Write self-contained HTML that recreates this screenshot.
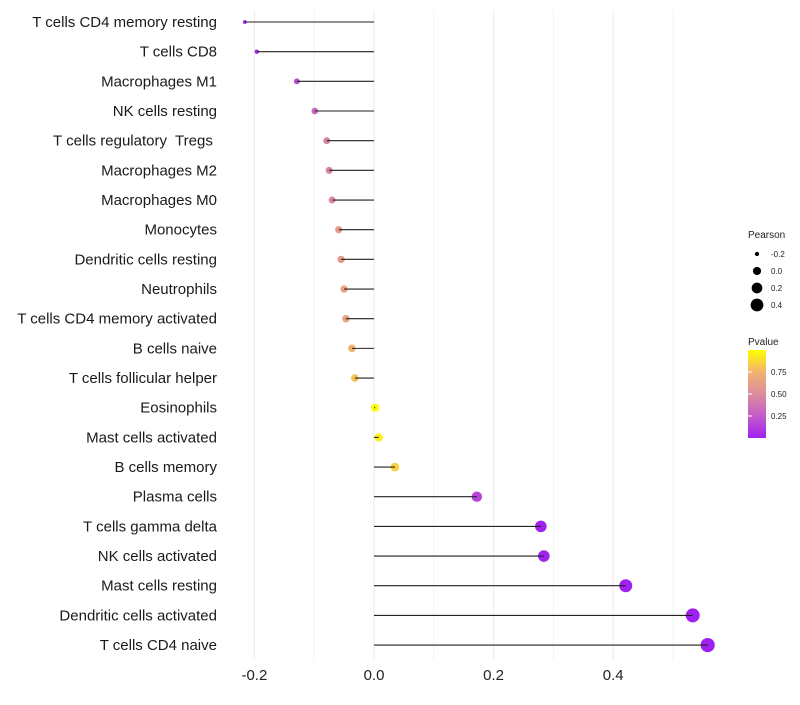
<!DOCTYPE html>
<html><head><meta charset="utf-8"><style>
body{margin:0;background:#fff;font-family:"Liberation Sans",sans-serif}
text{white-space:pre}
</style></head><body>
<svg id="c" width="800" height="700" xmlns="http://www.w3.org/2000/svg">
<defs><linearGradient id="pg" x1="0" y1="1" x2="0" y2="0">
<stop offset="0" stop-color="#a020f0"/><stop offset="0.25" stop-color="#c45cc8"/><stop offset="0.5" stop-color="#dc8c9c"/><stop offset="0.75" stop-color="#f2b36e"/><stop offset="1" stop-color="#ffff00"/></linearGradient></defs>
</svg>
<script>
const categories=["T cells CD4 memory resting","T cells CD8","Macrophages M1","NK cells resting","T cells regulatory  Tregs ","Macrophages M2","Macrophages M0","Monocytes","Dendritic cells resting","Neutrophils","T cells CD4 memory activated","B cells naive","T cells follicular helper","Eosinophils","Mast cells activated","B cells memory","Plasma cells","T cells gamma delta","NK cells activated","Mast cells resting","Dendritic cells activated","T cells CD4 naive"];
const pearson=[-0.216,-0.196,-0.129,-0.099,-0.079,-0.075,-0.070,-0.059,-0.055,-0.050,-0.047,-0.037,-0.032,0.002,0.008,0.035,0.172,0.279,0.284,0.421,0.533,0.558];
const pvalues=[0.02,0.05,0.2,0.3,0.45,0.45,0.5,0.6,0.6,0.65,0.65,0.75,0.8,0.99,0.95,0.85,0.15,0.01,0.01,0.001,0.001,0.001];
const xTicks=[-0.2,0,0.2,0.4];
const xTickLabels=["-0.2","0.0","0.2","0.4"];
const sizeLegend=[-0.2,0,0.2,0.4];
const colorLegend=[0.25,0.5,0.75];
const NS="http://www.w3.org/2000/svg",svg=document.getElementById("c");
function x(v){return 374+v*598;}
function y(i){return 22+i*29.67;}
function r(v){return Math.sqrt(3.5+(v+0.22)/0.78*47);}
function col(p){const s=[[0,[160,32,240]],[0.25,[196,92,200]],[0.5,[220,140,156]],[0.75,[242,179,110]],[1,[255,255,0]]];
for(let k=1;k<s.length;k++){if(p<=s[k][0]){const t=(p-s[k-1][0])/(s[k][0]-s[k-1][0]);const a=s[k-1][1],b=s[k][1];return "rgb("+a.map((c,j)=>Math.round(c+(b[j]-c)*t)).join(",")+")";}}return "rgb(255,255,0)";}
function el(t,a,txt){const e=document.createElementNS(NS,t);for(const k in a)e.setAttribute(k,a[k]);if(txt!=null)e.textContent=txt;svg.appendChild(e);return e;}
for(let v=-0.2;v<=0.55;v+=0.1){const g=el("line",{x1:x(v),x2:x(v),y1:10,y2:660,stroke:"#ebebeb","stroke-width":Math.abs(Math.round(v*10))%2===0?1:0.6});

}
xTicks.forEach((v,i)=>{const t=el("text",{x:x(v),y:680,"text-anchor":"middle","font-size":15,fill:"#222"},xTickLabels[i]);

});
categories.forEach((c,i)=>{
const t=el("text",{x:217,y:y(i)+5,"text-anchor":"end","font-size":15,fill:"#1a1a1a"},c);


const d=el("circle",{cx:x(pearson[i]),cy:y(i),r:r(pearson[i]),fill:col(pvalues[i])});


const l=el("line",{x1:x(0),x2:x(pearson[i]),y1:y(i),y2:y(i),stroke:"#222","stroke-width":1.1});


});
let tt=el("text",{x:748,y:238,"font-size":10,fill:"#222"},"Pearson");


sizeLegend.forEach((v,i)=>{const yy=254+i*17;
const d=el("circle",{cx:757,cy:yy,r:r(v),fill:"#000"});


const t=el("text",{x:771,y:yy+3,"font-size":8,fill:"#222"},v.toFixed(1));

});
tt=el("text",{x:748,y:345,"font-size":10,fill:"#222"},"Pvalue");


const bar=el("rect",{x:748,y:350,width:18,height:88,fill:"url(#pg)"});


colorLegend.forEach(p=>{const yy=438-p*88;
const k=el("line",{x1:748,x2:752,y1:yy,y2:yy,stroke:"#fff"});


const t=el("text",{x:771,y:yy+3,"font-size":8,fill:"#222"},p.toFixed(2));

});
</script>
</body></html>
